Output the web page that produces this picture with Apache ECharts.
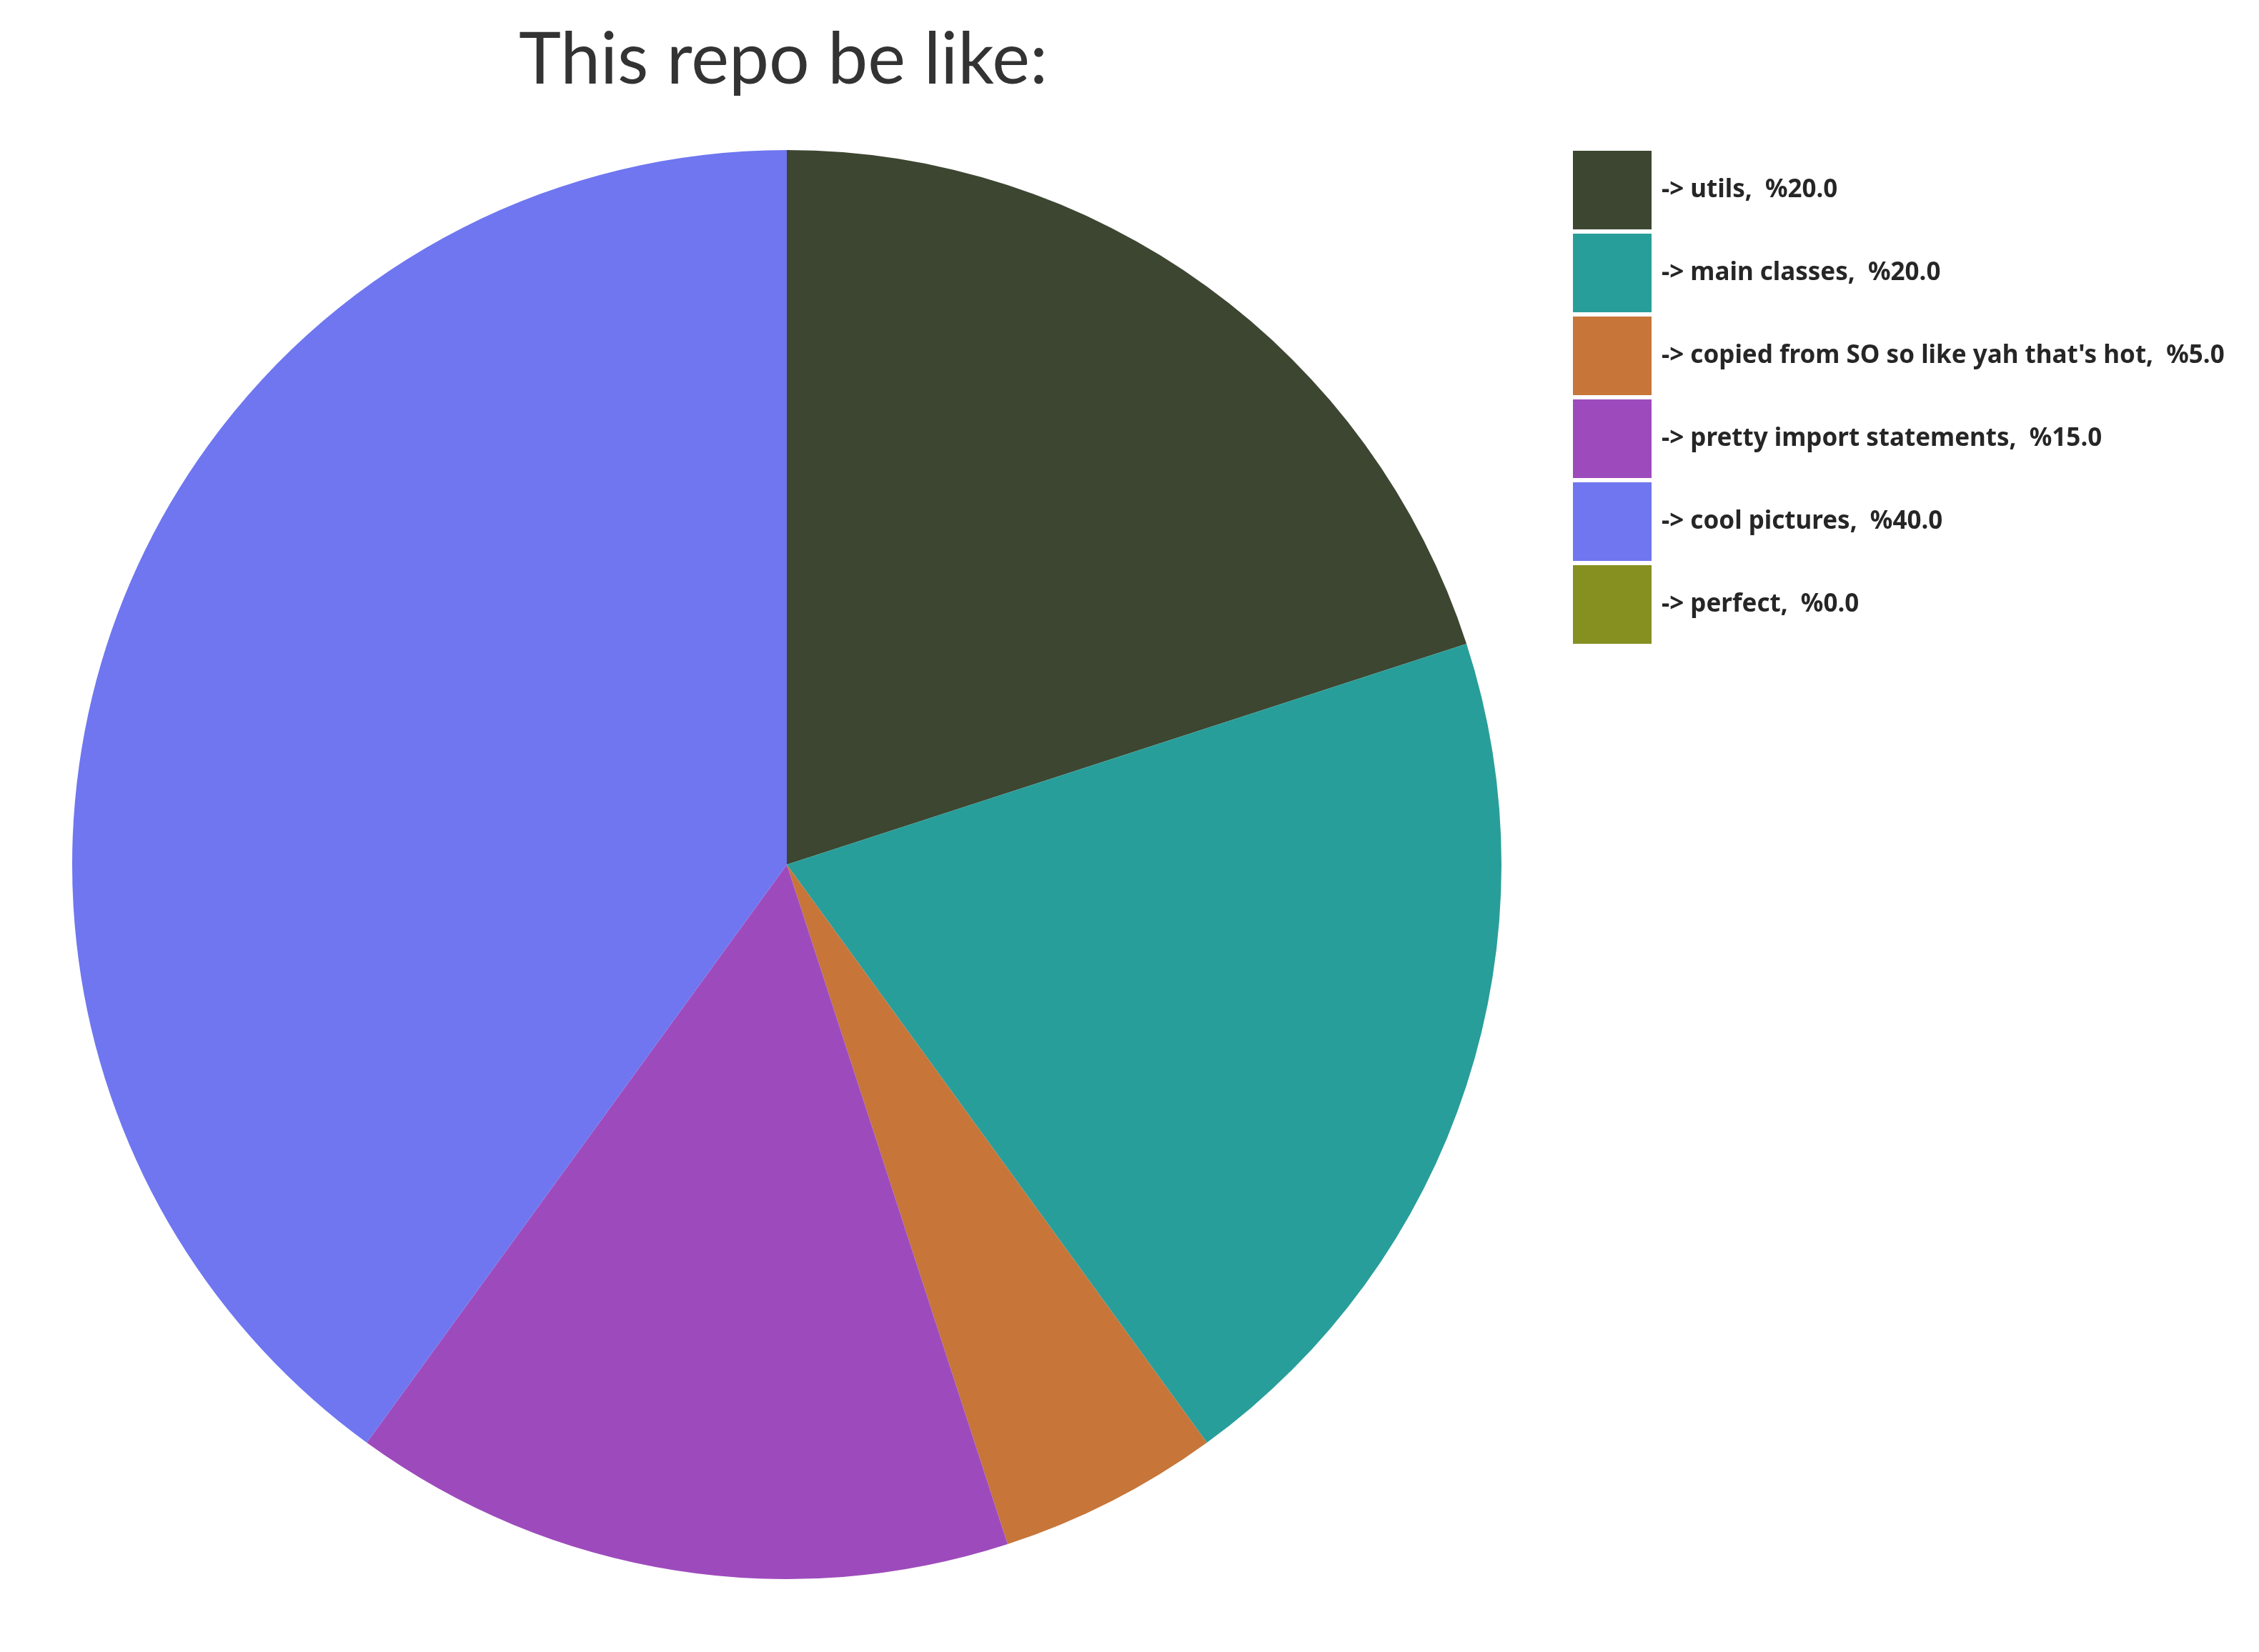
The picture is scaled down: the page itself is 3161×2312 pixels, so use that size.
<!DOCTYPE html>
<html>
<head>
<meta charset="utf-8">
<script src="https://cdn.jsdelivr.net/npm/echarts@6/dist/echarts.min.js"></script>
<style>
  html, body { margin: 0; padding: 0; background: #fff; }
  #chart { width: 3161px; height: 2312px; }
</style>
</head>
<body>
<div id="chart"></div>
<script>
const categories = ['utils', 'main classes', "copied from SO so like yah that's hot", 'pretty import statements', 'cool pictures', 'perfect'];
const shares = [20, 20, 5, 15, 40, 0];
const colors = ['#3d4631', '#289e9a', '#c77539', '#9d4bbc', '#6f76f0', '#869021'];

const legendName = (name, v) => `-> ${name},  %${v.toFixed(1)}`;

const pieData = categories.map((c, i) => ({
    name: legendName(c, shares[i]),
    value: shares[i],
    itemStyle: {color: colors[i]}
}));

const chart = echarts.init(document.getElementById('chart'));

chart.setOption({
    animation: false,
    title: {
        text: 'This repo be like:',
        left: 1091,
        top: 30,
        textAlign: 'center',
        textStyle: {
            fontFamily: 'Lato',
            fontWeight: 'normal',
            fontSize: 100,
            color: '#333333'
        }
    },
    legend: {
        orient: 'vertical',
        left: 2199,
        top: 209,
        padding: 0,
        itemWidth: 112,
        itemHeight: 112,
        itemGap: 2,
        icon: 'rect',
        itemStyle: {borderColor: '#ffffff', borderWidth: 2},
        selectedMode: false,
        textStyle: {
            fontFamily: 'Noto Sans',
            fontWeight: 'bold',
            fontSize: 35,
            color: '#262626',
            padding: [12, 0, 0, 8]
        },
        data: pieData.map(d => d.name)
    },
    series: [{
        type: 'pie',
        center: [1101, 1210],
        radius: [0, 1000],
        startAngle: 90,
        clockwise: true,
        label: {show: false},
        labelLine: {show: false},
        emphasis: {disabled: true},
        itemStyle: {borderWidth: 0},
        data: pieData
    }]
});
</script>
</body>
</html>
